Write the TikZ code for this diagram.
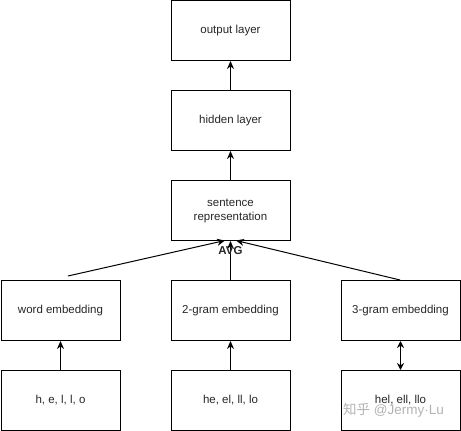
\documentclass[tikz,border=0pt]{standalone}
\usepackage{fontspec}
\setmainfont{Liberation Sans}
\newfontfamily\cjk{Noto Sans CJK SC}
\usetikzlibrary{arrows.meta}
\begin{document}
\begin{tikzpicture}[x=1pt,y=-1pt,
  box/.style={draw=black,line width=1pt,minimum width=119pt,minimum height=60pt,inner sep=0pt,align=center,font=\fontsize{11.5}{14}\selectfont,text=black!85},
  conn/.style={line width=1pt,-{Stealth[length=8pt,width=7pt]}},
  dconn/.style={line width=1.5pt,{Stealth[length=7pt,width=7pt]}-{Stealth[length=7pt,width=7pt]}}]
\useasboundingbox (0,0) rectangle (461,431);
\node[box] (out) at (230.5,30.5) {output layer};
\node[box] (hid) at (230.5,120.5) {hidden layer};
\node[box] (sent) at (230.5,210.5) {sentence\\representation};
\node[box] (we) at (60.5,310.5) {word embedding};
\node[box] (g2) at (230.5,310.5) {2-gram embedding};
\node[box] (g3) at (400.5,310.5) {3-gram embedding};
\node[box] (b1) at (60.5,400.5) {h, e, l, l, o};
\node[box] (b2) at (230.5,400.5) {he, el, ll, lo};
\node[box] (b3) at (400.5,400.5) {hel, ell, llo};
\coordinate (weT) at (68,276);
\coordinate (g3T) at (400,280);
\coordinate (sL) at (225,240.5);
\coordinate (sR) at (236,240.5);
\draw[conn] (hid.north) -- (out.south);
\draw[conn] (sent.north) -- (hid.south);
\draw[conn] (g2.north) -- (sent.south);
\draw[conn] (weT) -- (sL);
\draw[conn] (g3T) -- (sR);
\node[font=\fontsize{11.5}{13}\selectfont\bfseries,text=black!85] (avg) at (230.5,251) {AVG};
\draw[conn] (b1.north) -- (we.south);
\draw[conn] (b2.north) -- (g2.south);
\draw[dconn] (b3.north) -- (g3.south);
\node[font=\fontsize{13.5}{15}\selectfont,text=black!30,anchor=west,inner sep=0pt] (wm) at (343,410) {{\cjk 知乎} @Jermy·Lu};
\end{tikzpicture}
\end{document}
